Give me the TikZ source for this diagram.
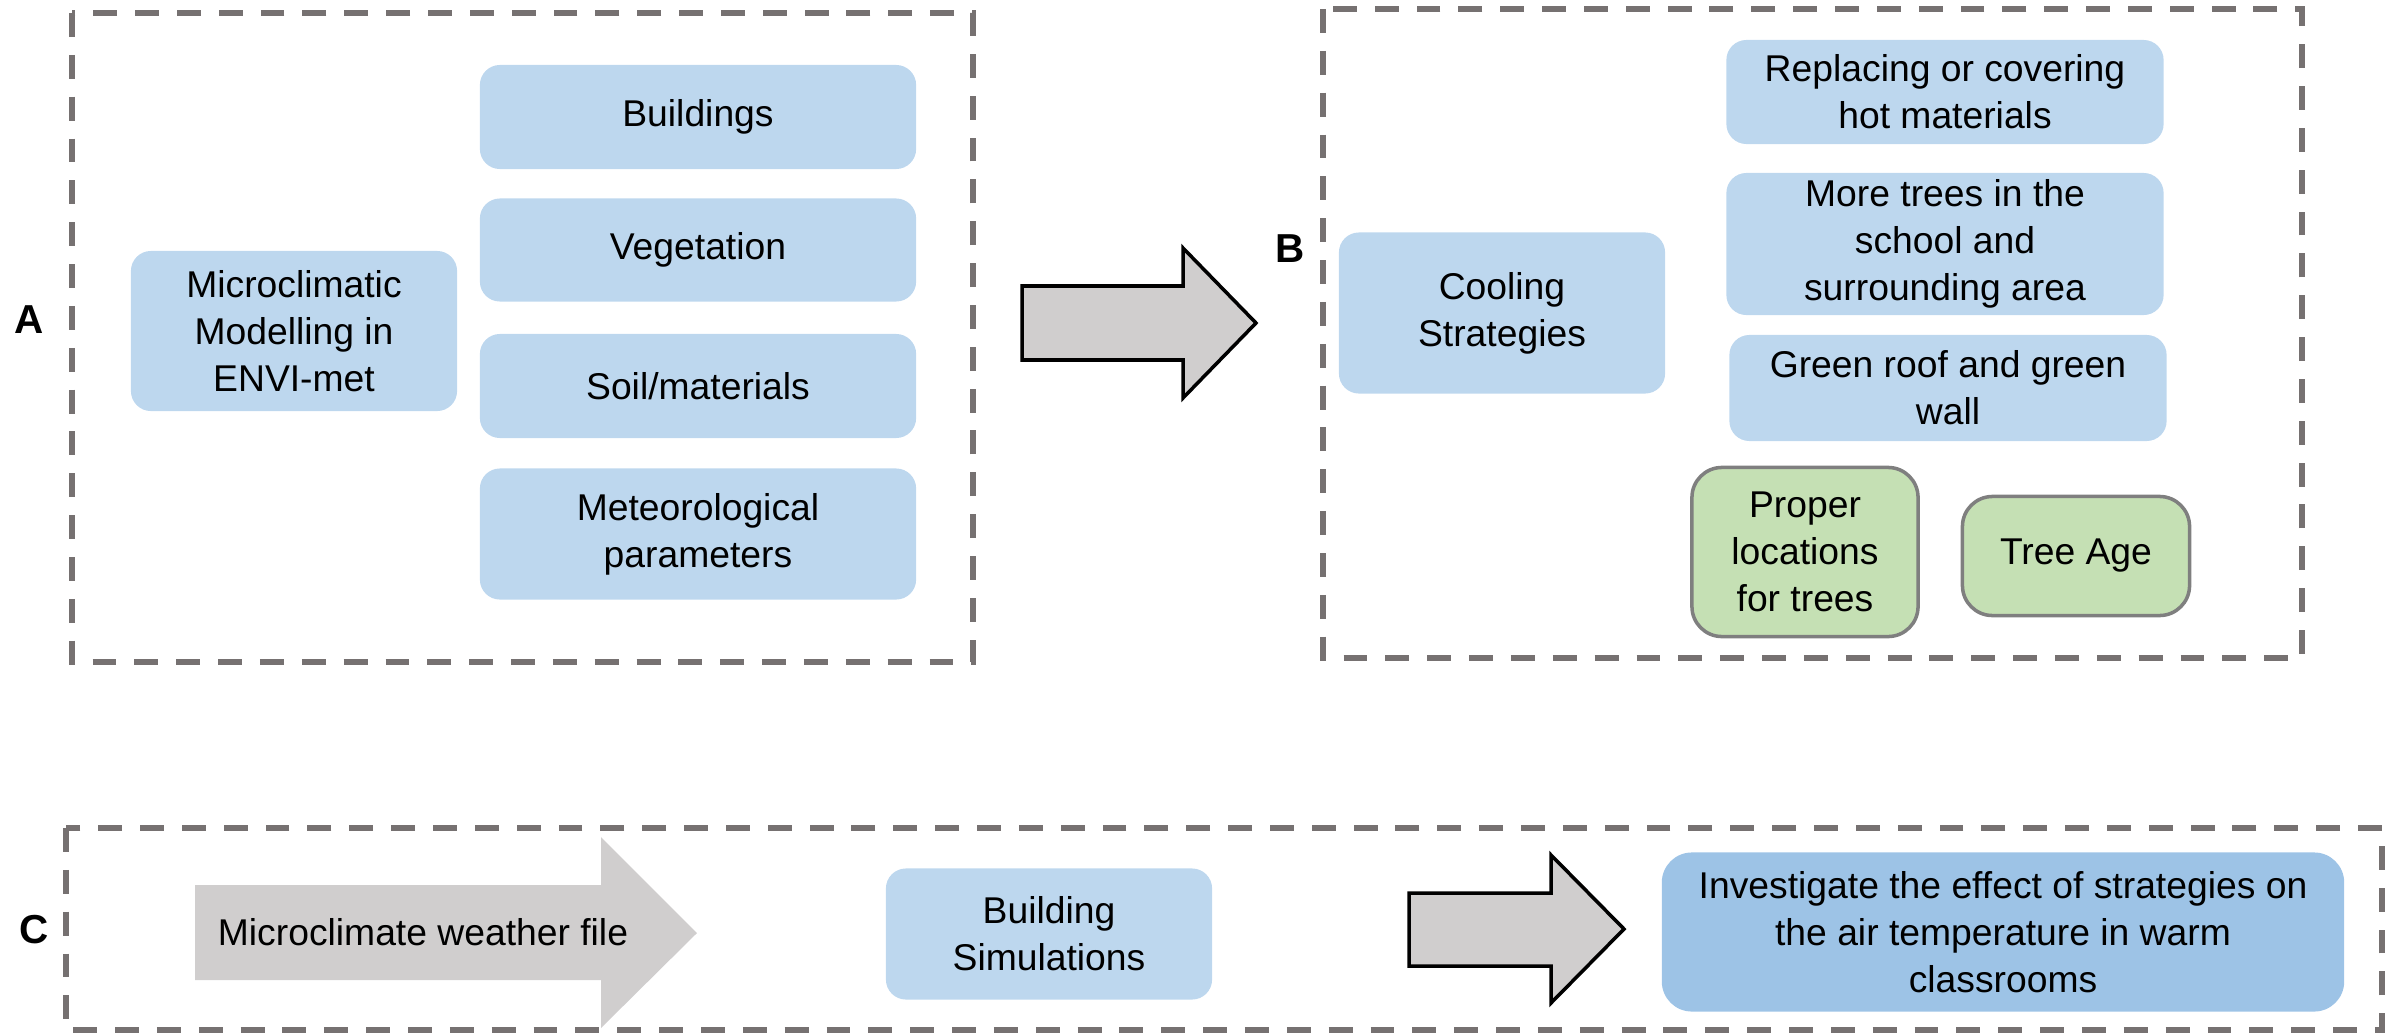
\documentclass[tikz,border=0pt]{standalone}
\usepackage{fontspec}
\setmainfont{Liberation Sans}
\usepackage{tikz}

\definecolor{boxblue}{HTML}{BDD7EE}
\definecolor{boxdeep}{HTML}{9DC3E6}
\definecolor{boxgreen}{HTML}{C5E0B4}
\definecolor{greenline}{HTML}{7F7F7F}
\definecolor{framegray}{HTML}{767171}
\definecolor{arrowgray}{HTML}{D0CECE}

\begin{document}
\begin{tikzpicture}[x=0.01cm,y=-0.01cm, line width=0.8pt]
                \tikzstyle{block} = [fill=boxblue, rectangle, rounded corners=0.2cm, inner sep=0pt, align=center, font=\fontsize{10.6}{13.4}\selectfont]
                \tikzstyle{leaf} = [block, fill=boxgreen, draw=greenline, line width=1pt, rounded corners=0.3cm]
                \tikzstyle{frame} = [draw=framegray, line width=1.7pt, dash pattern=on 6.8pt off 5.1pt]
                \tikzstyle{fat} = [draw=black, fill=arrowgray, line width=1pt]
                \tikzstyle{tag} = [font=\fontsize{11.5}{13}\selectfont\bfseries]

                \useasboundingbox (0,0) rectangle (2399,1033);

                % Frames
                \draw[frame] (72,13) rectangle (973,662);
                \draw[frame] (1323,9) rectangle (2302,658);
                \draw[frame] (66,828) rectangle (2382,1030);

                % Panel letters
                \node[tag] (tagA) at (29,320) {A};
                \node[tag] (tagB) at (1290,249) {B};
                \node[tag] (tagC) at (34,930) {C};

                % Panel A
                \node[block, minimum width=3.26cm, minimum height=1.6cm] (envi) at (294,331) {Microclimatic\\Modelling in\\ENVI-met};
                \node[block, minimum width=4.36cm, minimum height=1.04cm] (bldg) at (698,117) {Buildings};
                \node[block, minimum width=4.36cm, minimum height=1.03cm] (veg) at (698,250) {Vegetation};
                \node[block, minimum width=4.36cm, minimum height=1.04cm] (soil) at (698,386) {Soil/materials};
                \node[block, minimum width=4.36cm, minimum height=1.31cm] (meteo) at (698,534) {Meteorological\\parameters};

                % Arrow A to B
                \draw[fat] (1022,286) -- (1183,286) -- (1183,248) -- (1256,323)
                    -- (1183,398) -- (1183,360) -- (1022,360) -- cycle;

                % Panel B
                \node[block, minimum width=3.26cm, minimum height=1.61cm] (cool) at (1502,313) {Cooling\\Strategies};
                \node[block, minimum width=4.37cm, minimum height=1.04cm] (repl) at (1945,92) {Replacing or covering\\hot materials};
                \node[block, minimum width=4.37cm, minimum height=1.42cm] (trees) at (1945,244) {More trees in the\\school and\\surrounding area};
                \node[block, minimum width=4.37cm, minimum height=1.06cm] (roof) at (1948,388) {Green roof and green\\wall};
                \node[leaf, minimum width=2.26cm, minimum height=1.69cm] (place) at (1805,552) {Proper\\locations\\for trees};
                \node[leaf, minimum width=2.27cm, minimum height=1.19cm] (age) at (2076,556) {Tree Age};

                % Panel C
                \fill[arrowgray] (195,885) -- (601,885) -- (601,837) -- (697,933)
                    -- (601,1028) -- (601,980) -- (195,980) -- cycle;
                \node[font=\fontsize{10.6}{13.4}\selectfont] (wfile) at (423,932) {Microclimate weather file};
                \node[block, minimum width=3.26cm, minimum height=1.31cm] (bsim) at (1049,934) {Building\\Simulations};
                \draw[fat] (1409,893) -- (1551,893) -- (1551,855) -- (1624,929)
                    -- (1551,1003) -- (1551,966) -- (1409,966) -- cycle;
                \node[block, fill=boxdeep, rounded corners=0.3cm, minimum width=6.82cm, minimum height=1.59cm] (effect) at (2003,932) {Investigate the effect of strategies on\\the air temperature in warm\\classrooms};
            \end{tikzpicture}
\end{document}
